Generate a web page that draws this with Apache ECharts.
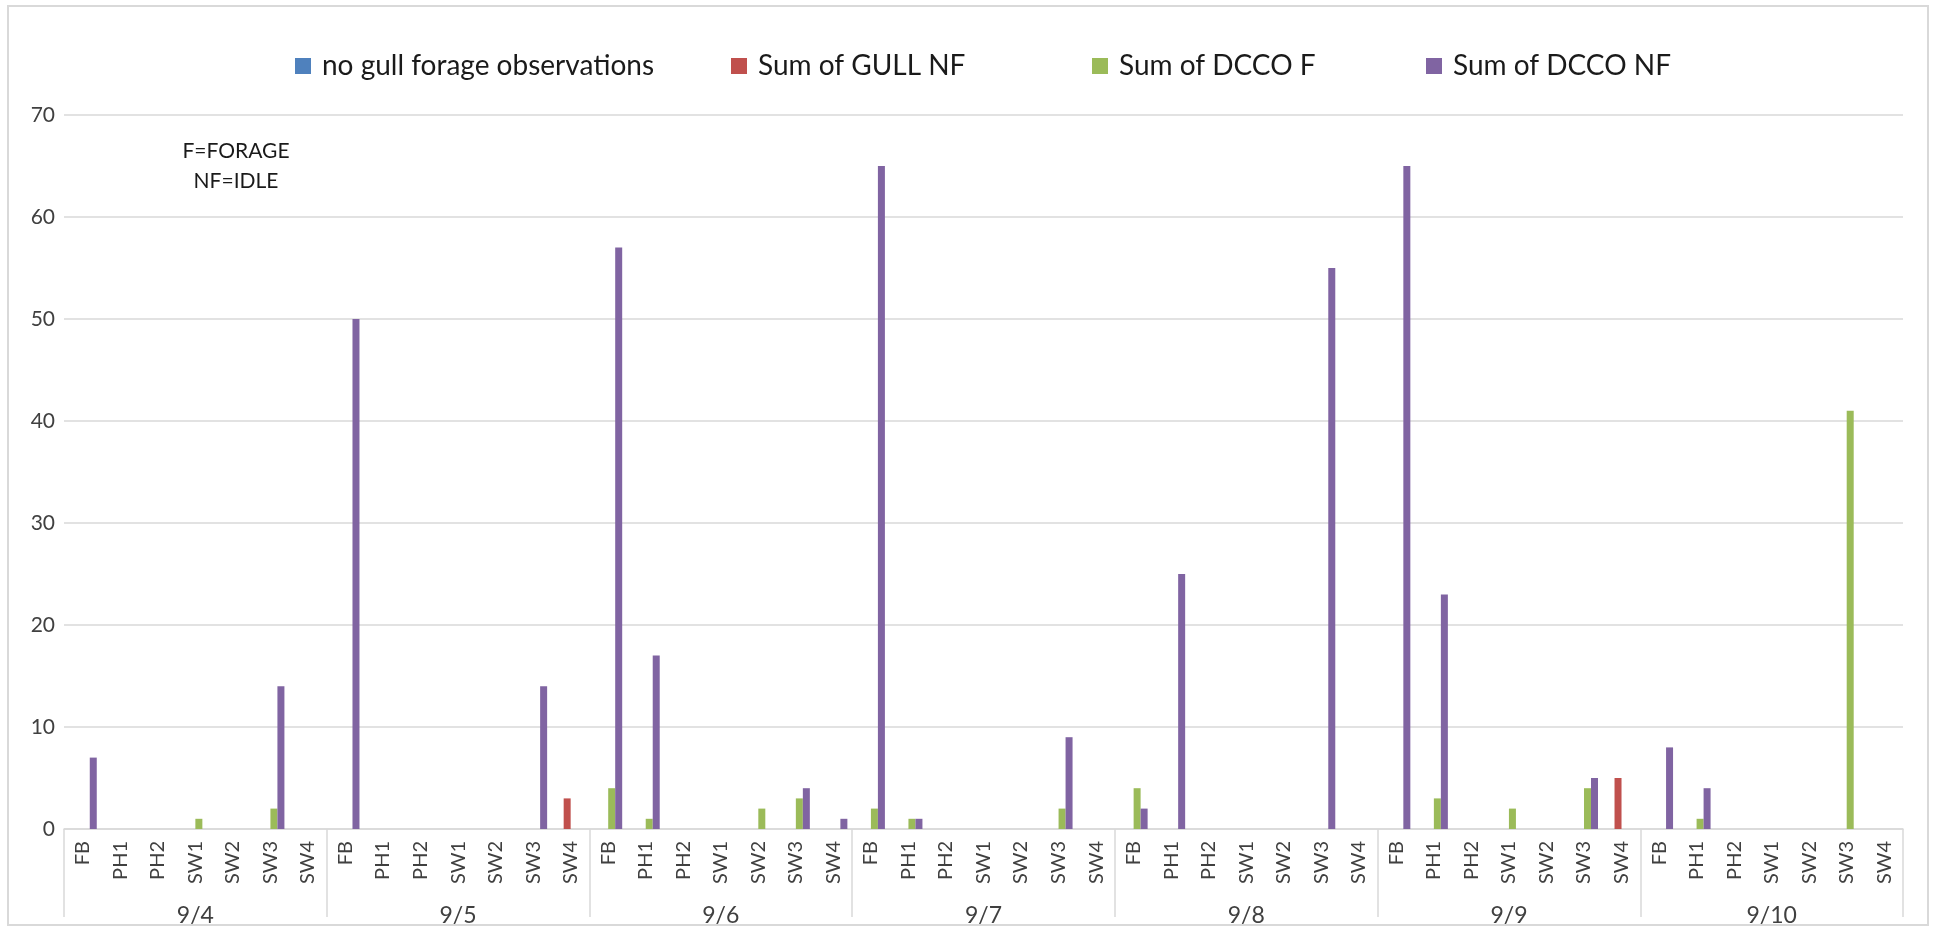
<!DOCTYPE html>
<html>
<head>
<meta charset="utf-8">
<script src="https://cdn.jsdelivr.net/npm/echarts@6/dist/echarts.min.js"></script>
<style>
	html, body { margin: 0; padding: 0; background: #fff; }
	#chart { width: 1938px; height: 927px; }
</style>
</head>
<body>
<div id="chart"></div>
<script>
const dates = ['9/4', '9/5', '9/6', '9/7', '9/8', '9/9', '9/10']
const sites = ['FB', 'PH1', 'PH2', 'SW1', 'SW2', 'SW3', 'SW4']

// one value per site, site order repeated for each date
const noGull = [
	0, 0, 0, 0, 0, 0, 0,
	0, 0, 0, 0, 0, 0, 0,
	0, 0, 0, 0, 0, 0, 0,
	0, 0, 0, 0, 0, 0, 0,
	0, 0, 0, 0, 0, 0, 0,
	0, 0, 0, 0, 0, 0, 0,
	0, 0, 0, 0, 0, 0, 0,
]
const gullNF = [
	0, 0, 0, 0, 0, 0, 0,
	0, 0, 0, 0, 0, 0, 3,
	0, 0, 0, 0, 0, 0, 0,
	0, 0, 0, 0, 0, 0, 0,
	0, 0, 0, 0, 0, 0, 0,
	0, 0, 0, 0, 0, 0, 5,
	0, 0, 0, 0, 0, 0, 0,
]
const dccoF = [
	0, 0, 0, 1, 0, 2, 0,
	0, 0, 0, 0, 0, 0, 0,
	4, 1, 0, 0, 2, 3, 0,
	2, 1, 0, 0, 0, 2, 0,
	4, 0, 0, 0, 0, 0, 0,
	0, 3, 0, 2, 0, 4, 0,
	0, 1, 0, 0, 0, 41, 0,
]
const dccoNF = [
	7, 0, 0, 0, 0, 14, 0,
	50, 0, 0, 0, 0, 14, 0,
	57, 17, 0, 0, 0, 4, 1,
	65, 1, 0, 0, 0, 9, 0,
	2, 25, 0, 0, 0, 55, 0,
	65, 23, 0, 0, 0, 5, 0,
	8, 4, 0, 0, 0, 0, 0,
]

const seriesNames = ['no gull forage observations', 'Sum of GULL NF', 'Sum of DCCO F', 'Sum of DCCO NF']
const colors = ['#4f81bd', '#c0504d', '#9bbb59', '#8064a2']
const legendLeft = [290, 726, 1087, 1421]

let siteCats = []
dates.forEach((d) => {
	sites.forEach((s) => siteCats.push(s))
})

const myChart = echarts.init(document.getElementById('chart'), null, { renderer: 'canvas' })
const font = 'Lato, "Open Sans", sans-serif'

let option = {
	animation: false,
	color: colors,
	textStyle: { fontFamily: font },
	legend: seriesNames.map((n, i) => ({
		data: [n],
		left: legendLeft[i],
		top: 47,
		icon: 'rect',
		itemWidth: 16,
		itemHeight: 16,
		selectedMode: false,
		textStyle: { fontSize: 28, color: '#1a1a1a', fontFamily: font, padding: [0, 0, 0, 6] },
	})),
	graphic: [
		{
			type: 'rect',
			shape: { x: 8, y: 6, width: 1920, height: 919 },
			style: { fill: 'none', stroke: '#d9d9d9', lineWidth: 2 },
			silent: true,
		},
		{
			type: 'text',
			silent: true,
			style: {
				x: 236,
				y: 136,
				text: 'F=FORAGE\nNF=IDLE',
				fontSize: 21,
				fontFamily: font,
				fill: '#1a1a1a',
				align: 'center',
				verticalAlign: 'top',
				lineHeight: 30,
			},
		},
	],
	grid: {
		left: 64,
		right: 35,
		top: 115,
		bottom: 98,
	},
	xAxis: [
		{
			type: 'category',
			data: siteCats,
			position: 'bottom',
			axisLine: { lineStyle: { color: '#d9d9d9', width: 1.5 } },
			axisTick: { show: false },
			axisLabel: {
				interval: 0,
				rotate: 90,
				margin: 12,
				fontSize: 20,
				color: '#404040',
				fontFamily: font,
			},
		},
		{
			type: 'category',
			data: dates,
			position: 'bottom',
			axisLine: { show: false },
			axisTick: { show: true, length: 88, lineStyle: { color: '#d9d9d9', width: 1.5 } },
			axisLabel: {
				interval: 0,
				margin: 75,
				fontSize: 23,
				color: '#404040',
				fontFamily: font,
			},
		},
	],
	yAxis: {
		type: 'value',
		min: 0,
		max: 70,
		interval: 10,
		axisLine: { show: false },
		axisTick: { show: false },
		splitLine: { lineStyle: { color: '#d9d9d9', width: 1.5 } },
		axisLabel: { margin: 9, fontSize: 21, color: '#404040', fontFamily: font },
	},
	series: [noGull, gullNF, dccoF, dccoNF].map((vals, i) => ({
		name: seriesNames[i],
		type: 'bar',
		xAxisIndex: 0,
		data: vals,
		barWidth: 7,
		barGap: '0%',
	})),
}
myChart.setOption(option)

window.addEventListener('resize', () => {
	myChart.resize()
})
</script>
</body>
</html>
